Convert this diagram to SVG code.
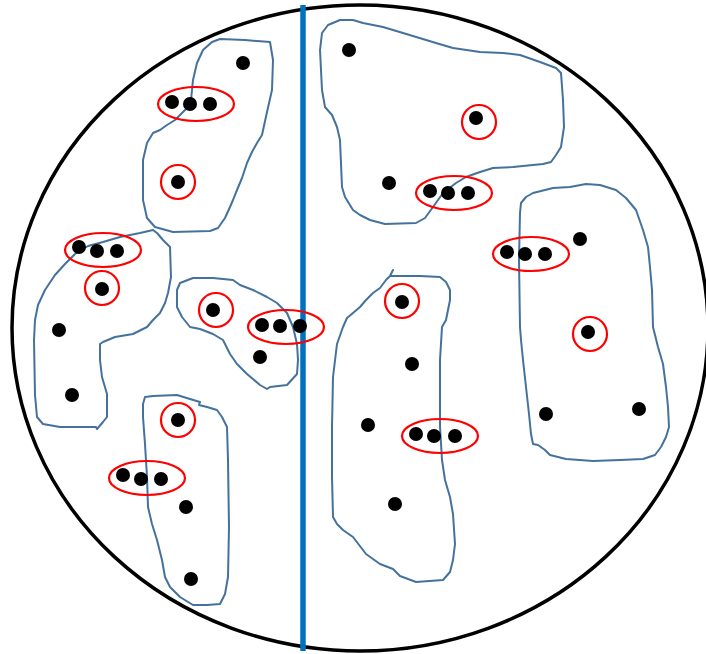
<svg xmlns="http://www.w3.org/2000/svg" width="706" height="654" viewBox="0 0 706 654">
<style>
.rim{fill:none;stroke:#000;stroke-width:3.5}
.zone{fill:none;stroke:#44729D;stroke-width:2;stroke-linejoin:round;stroke-linecap:round}
.ring{fill:none;stroke:#FF0000;stroke-width:2.2}
.dot{fill:#000}
.split{stroke:#0070C0;stroke-width:5.5}
</style>
<rect width="706" height="654" fill="#fff"/>
<ellipse class="rim" cx="360" cy="328" rx="348" ry="323"/>
<g id="zones">
<path id="zoneA" class="zone" d="M245,40 L270,42 L273,60 L272,90 L267,112 L262,135 L257,143 L252,152 L247,163 L242,178 L237,190 L233,200 L230,207 L225,218 L218,228 L210,231 L173,232 L155,227 L147,218 L143,200 L143,160 L147,143 L153,133 L160,130 L167,125 L175,120 L180,115 L187,108 L191,100 L193,80 L197,63 L203,50 L212,42 L220,39 Z"/>
<path id="zoneB" class="zone" d="M153,230 L140,233 L120,237 L103,242 L88,246 L75,254 L65,264 L55,275 L45,290 L38,305 L35,320 L34,340 L35,395 L37,417 L43,424 L60,427 L96,427 L97,429 L103,422 L107,417 L107,394 L102,377 L100,360 L100,344 L103,342 L115,337 L133,334 L147,327 L153,320 L160,313 L165,303 L168,293 L171,277 L170,247 L163,240 L157,233 Z"/>
<path id="zoneC" class="zone" d="M180,283 L193,278 L213,278 L233,280 L240,285 L253,290 L267,297 L277,303 L287,313 L293,327 L297,344 L298,360 L297,374 L287,385 L270,387 L267,389 L260,385 L247,374 L237,364 L230,354 L223,340 L213,334 L200,329 L190,327 L182,317 L177,307 L177,290 Z"/>
<path id="zoneD" class="zone" d="M143,404 L145,397 L153,396 L177,395 L190,399 L200,402 L199,405 L207,407 L217,410 L222,417 L227,427 L228,460 L229,527 L228,577 L225,594 L220,604 L207,605 L193,605 L180,597 L170,587 L165,577 L162,560 L157,540 L152,524 L148,507 L147,477 L145,444 L143,417 Z"/>
<path id="zoneE" class="zone" d="M340,20 L353,20 L363,23 L383,27 L403,33 L436,43 L453,48 L480,52 L503,53 L520,55 L540,62 L556,68 L561,73 L563,100 L564,127 L561,147 L556,155 L551,162 L543,164 L513,167 L493,168 L480,172 L466,177 L456,183 L443,193 L433,207 L425,218 L416,223 L385,224 L370,220 L360,215 L353,210 L345,197 L342,187 L340,140 L337,127 L332,115 L325,107 L322,90 L320,50 L322,33 L328,25 Z"/>
<path id="zoneF" class="zone" d="M520,213 L521,203 L526,197 L533,193 L553,188 L570,187 L586,184 L600,185 L616,190 L626,198 L636,210 L643,230 L648,247 L650,267 L652,290 L653,327 L658,347 L663,364 L666,387 L668,407 L669,427 L666,437 L661,447 L655,455 L643,459 L620,460 L593,461 L566,459 L550,455 L545,450 L538,445 L533,444 L531,434 L529,414 L526,387 L523,360 L521,340 L520,327 L519,260 Z"/>
<path id="zoneG" class="zone" d="M393,270 L390,276 L386,280 L380,288 L373,293 L366,300 L360,307 L353,313 L347,318 L343,327 L337,344 L333,377 L332,427 L332,477 L333,517 L337,524 L343,530 L353,537 L366,554 L380,564 L393,569 L400,576 L416,582 L443,580 L450,572 L453,560 L455,544 L453,514 L450,497 L445,480 L442,460 L440,427 L440,394 L440,360 L442,327 L446,320 L450,300 L450,290 L446,282 L440,277 L420,276 L391,276"/>
</g>
<line class="split" x1="303" y1="5" x2="303" y2="651"/>
<g id="rings">
<ellipse class="ring" cx="196" cy="104" rx="38" ry="17"/>
<circle class="ring" cx="178" cy="182" r="17"/>
<ellipse class="ring" cx="103" cy="250" rx="38" ry="17"/>
<circle class="ring" cx="102" cy="288" r="17"/>
<circle class="ring" cx="216" cy="310" r="17"/>
<ellipse class="ring" cx="286" cy="327" rx="38" ry="17"/>
<circle class="ring" cx="178" cy="420" r="17"/>
<ellipse class="ring" cx="147" cy="478" rx="38" ry="17"/>
<circle class="ring" cx="479" cy="122" r="17"/>
<ellipse class="ring" cx="454" cy="193" rx="38" ry="17"/>
<ellipse class="ring" cx="531" cy="254" rx="38" ry="17"/>
<circle class="ring" cx="402" cy="301" r="17"/>
<circle class="ring" cx="590" cy="334" r="17"/>
<ellipse class="ring" cx="440" cy="436" rx="38" ry="17"/>
</g>
<g id="dots">
<circle class="dot" cx="243" cy="63" r="7"/>
<circle class="dot" cx="172" cy="102" r="7"/>
<circle class="dot" cx="190" cy="104" r="7"/>
<circle class="dot" cx="210" cy="104" r="7"/>
<circle class="dot" cx="178" cy="182" r="7"/>
<circle class="dot" cx="79" cy="247" r="7"/>
<circle class="dot" cx="97" cy="251" r="7"/>
<circle class="dot" cx="117" cy="251" r="7"/>
<circle class="dot" cx="102" cy="289" r="7"/>
<circle class="dot" cx="59" cy="330" r="7"/>
<circle class="dot" cx="72" cy="395" r="7"/>
<circle class="dot" cx="213" cy="310" r="7"/>
<circle class="dot" cx="262" cy="325" r="7"/>
<circle class="dot" cx="280" cy="326" r="7"/>
<circle class="dot" cx="300" cy="326" r="7"/>
<circle class="dot" cx="260" cy="357" r="7"/>
<circle class="dot" cx="178" cy="420" r="7"/>
<circle class="dot" cx="123" cy="475" r="7"/>
<circle class="dot" cx="141" cy="479" r="7"/>
<circle class="dot" cx="161" cy="479" r="7"/>
<circle class="dot" cx="186" cy="507" r="7"/>
<circle class="dot" cx="191" cy="579" r="7"/>
<circle class="dot" cx="349" cy="50" r="7"/>
<circle class="dot" cx="476" cy="118" r="7"/>
<circle class="dot" cx="389" cy="183" r="7"/>
<circle class="dot" cx="430" cy="191" r="7"/>
<circle class="dot" cx="448" cy="193" r="7"/>
<circle class="dot" cx="468" cy="193" r="7"/>
<circle class="dot" cx="507" cy="252" r="7"/>
<circle class="dot" cx="525" cy="254" r="7"/>
<circle class="dot" cx="545" cy="254" r="7"/>
<circle class="dot" cx="580" cy="239" r="7"/>
<circle class="dot" cx="402" cy="302" r="7"/>
<circle class="dot" cx="588" cy="332" r="7"/>
<circle class="dot" cx="412" cy="364" r="7"/>
<circle class="dot" cx="368" cy="425" r="7"/>
<circle class="dot" cx="416" cy="434" r="7"/>
<circle class="dot" cx="434" cy="436" r="7"/>
<circle class="dot" cx="455" cy="436" r="7"/>
<circle class="dot" cx="395" cy="504" r="7"/>
<circle class="dot" cx="546" cy="414" r="7"/>
<circle class="dot" cx="639" cy="409" r="7"/>
</g>
</svg>
